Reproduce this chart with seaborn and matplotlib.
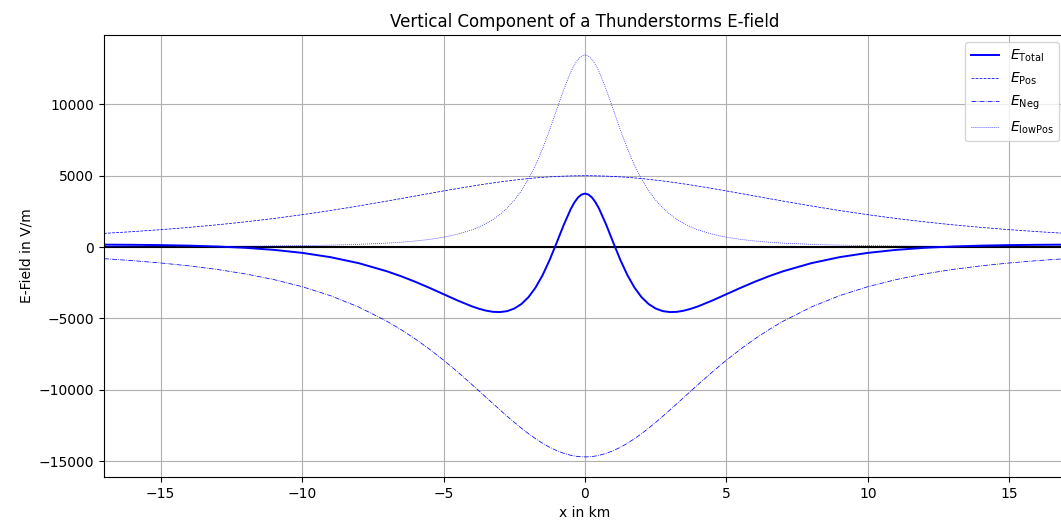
import matplotlib
matplotlib.use("Agg")
import matplotlib.pyplot as plt
from matplotlib.lines import Line2D
import seaborn as sns

x_km = [-17, -16, -15, -14, -13, -12, -11, -10, -9, -8, -7, -6.5, -6, -5.5, -5, -4.5, -4,
        -3.75, -3.5, -3.25, -3, -2.75, -2.5, -2.25, -2, -1.75, -1.5, -1.25, -1, -0.75, -0.5,
        -0.375, -0.25, -0.125, 0,
        0.125, 0.25, 0.375, 0.5, 0.75, 1, 1.25, 1.5, 1.75, 2, 2.25, 2.5, 2.75, 3, 3.25,
        3.5, 3.75, 4, 4.5, 5, 5.5, 6, 6.5, 7, 8, 9, 10, 11, 12, 13, 14, 15, 16, 17]

e_pos = [959, 1080, 1219, 1378, 1560, 1768, 2003, 2267, 2560, 2880, 3222, 3399, 3578, 3756,
         3933, 4104, 4269, 4348, 4424, 4496, 4565, 4630, 4691, 4747, 4798, 4845, 4885, 4919,
         4948, 4971, 4987, 4993, 4997, 4999, 5000,
         4999, 4997, 4993, 4987, 4971, 4948, 4919, 4885, 4845, 4798, 4747, 4691, 4630, 4565,
         4496, 4424, 4348, 4269, 4104, 3933, 3756, 3578, 3399, 3222, 2880, 2560, 2267, 2003,
         1768, 1560, 1378, 1219, 1080, 959]

e_neg = [-811, -947, -1112, -1315, -1566, -1880, -2275, -2772, -3402, -4198, -5197, -5784,
         -6434, -7147, -7921, -8749, -9622, -10068, -10519, -10969, -11415, -11853, -12278,
         -12684, -13068, -13422, -13743, -14024, -14261, -14450, -14589, -14637, -14672,
         -14693, -14700,
         -14693, -14672, -14637, -14589, -14450, -14261, -14024, -13743, -13422, -13068,
         -12684, -12278, -11853, -11415, -10969, -10519, -10068, -9622, -8749, -7921, -7147,
         -6434, -5784, -5197, -4198, -3402, -2772, -2275, -1880, -1566, -1315, -1112, -947,
         -811]

e_lowpos = [22, 26, 31, 38, 47, 60, 77, 102, 137, 192, 279, 342, 425, 537, 689, 901, 1203,
            1402, 1643, 1936, 2296, 2737, 3279, 3944, 4755, 5733, 6886, 8202, 9624, 11041,
            12281, 12771, 13141, 13372, 13450,
            13372, 13141, 12771, 12281, 11041, 9624, 8202, 6886, 5733, 4755, 3944, 3279,
            2737, 2296, 1936, 1643, 1402, 1203, 901, 689, 537, 425, 342, 279, 192, 137, 102,
            77, 60, 47, 38, 31, 26, 22]

e_total = [170, 159, 138, 101, 41, -52, -195, -404, -705, -1126, -1696, -2043, -2431, -2854,
           -3299, -3744, -4150, -4318, -4452, -4537, -4554, -4486, -4308, -3993, -3515, -2844,
           -1972, -903, 311, 1562, 2679, 3127, 3466, 3678, 3750,
           3678, 3466, 3127, 2679, 1562, 311, -903, -1972, -2844, -3515, -3993, -4308, -4486,
           -4554, -4537, -4452, -4318, -4150, -3744, -3299, -2854, -2431, -2043, -1696, -1126,
           -705, -404, -195, -52, 41, 101, 138, 159, 170]

labels = [r'$E_{\rm Total}$', r'$E_{\rm Pos}$', r'$E_{\rm Neg}$', r'$E_{\rm lowPos}$']
x_ticks = [-15, -10, -5, 0, 5, 10, 15]
y_ticks = [-15000, -10000, -5000, 0, 5000, 10000]

plt.rcParams['font.family'] = ['DejaVu Sans']

fig = plt.figure(figsize=(10.61, 5.21), dpi=100)
ax = fig.add_axes([104 / 1061, 44 / 521, 962 / 1061, 442 / 521])

styles = [dict(color='blue', lw=1.4, linestyle='-'),
          dict(color='blue', lw=0.55, linestyle='--'),
          dict(color='blue', lw=0.55, linestyle='-.'),
          dict(color='blue', lw=0.55, linestyle=':')]

ax.axhline(0, color='black', lw=1.5, zorder=1)
for yvals, st in zip([e_total, e_pos, e_neg, e_lowpos], styles):
    sns.lineplot(x=x_km, y=yvals, ax=ax, sort=False, legend=False, **st)

handles = [Line2D([], [], **st) for st in styles]

ax.set_xlim(-17, 17)
ax.set_xticks(x_ticks)
ax.set_yticks(y_ticks)
ax.grid(True, color='#b0b0b0', lw=0.8)
ax.set_axisbelow(True)
ax.set_title('Vertical Component of a Thunderstorms E-field', fontsize=12)
ax.set_xlabel('x in km', fontsize=10)
ax.set_ylabel('E-Field in V/m', fontsize=10)
ax.tick_params(labelsize=10)
ax.legend(handles, labels, loc='upper right', fontsize=10)

fig.savefig('out.png', dpi=100)
